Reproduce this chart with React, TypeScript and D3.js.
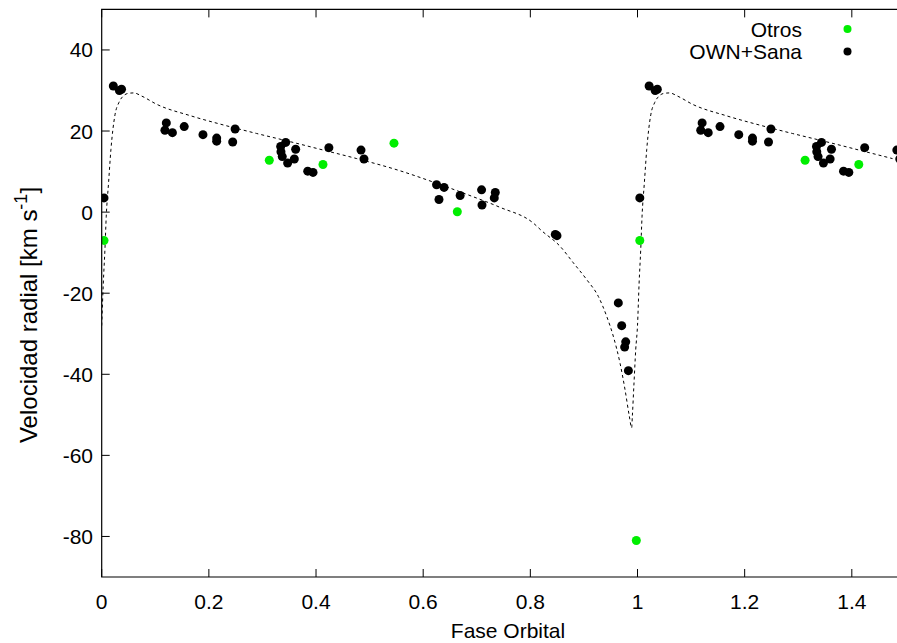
import React from "react";
import * as d3 from "d3";

// Observed data: phase, radial velocity (km/s)
const ownPhase = [0.0043, 0.0217, 0.033, 0.037, 0.1206, 0.118, 0.132, 0.154, 0.189, 0.2146, 0.2146, 0.2445, 0.249, 0.334, 0.3434, 0.3346, 0.337, 0.362, 0.347, 0.3595, 0.3845, 0.3944, 0.424, 0.484, 0.4895, 0.625, 0.639, 0.6295, 0.669, 0.709, 0.7098, 0.7346, 0.7327, 0.8466, 0.8497, 0.9642, 0.9705, 0.978, 0.976, 0.983];
const ownVel = [3.5, 31.1, 30.0, 30.3, 22.0, 20.2, 19.6, 21.1, 19.1, 18.25, 17.5, 17.3, 20.5, 16.2, 17.2, 14.9, 13.7, 15.5, 12.1, 13.1, 10.1, 9.8, 15.9, 15.3, 13.1, 6.75, 6.1, 3.1, 4.1, 5.5, 1.75, 4.85, 3.5, -5.5, -5.8, -22.4, -28.0, -32.0, -33.3, -39.1];

const otrosPhase = [0.0043, 0.3128, 0.413, 0.5455, 0.6637, 0.9978];
const otrosVel = [-7.0, 12.8, 11.75, 17.0, 0.1, -81.0];

// Orbit model curve
const curvePhase = [0.0, 0.003, 0.006, 0.0085, 0.0128, 0.0172, 0.0248, 0.032, 0.04, 0.05, 0.06, 0.075, 0.1026, 0.165, 0.227, 0.289, 0.351, 0.4136, 0.476, 0.5567, 0.619, 0.681, 0.743, 0.8055, 0.8212, 0.8553, 0.8802, 0.9052, 0.9269, 0.9425, 0.9548, 0.9673, 0.9766, 0.9847, 0.9891, 0.9904, 0.9935, 0.9967, 1.0];
const curveVel = [-28.0, -17.5, -9.3, -1.0, 7.2, 15.4, 24.0, 27.0, 28.6, 29.3, 29.4, 28.6, 26.6, 23.8, 21.5, 19.4, 17.4, 15.3, 13.2, 10.2, 7.4, 4.4, 1.2, -2.7, -4.6, -8.4, -12.5, -16.65, -20.8, -25.7, -30.6, -37.2, -43.7, -50.3, -53.2, -50.3, -42.1, -33.9, -28.0];

const xTicks = [0, 0.2, 0.4, 0.6, 0.8, 1, 1.2, 1.4];
const yTicks = [-80, -60, -40, -20, 0, 20, 40];

const xTitle = "Fase Orbital";
const legendLabels = ["Otros", "OWN+Sana"];

const W = 897;
const H = 643;
const FONT = "'Liberation Sans', Arial, Helvetica, sans-serif";

export default function App() {
  const left = 101.7;
  const top = 9.4;
  const bottom = 577;
  const xMax = 1.5;
  const x = d3.scaleLinear().domain([0, xMax]).range([left, left + 535.8 * xMax]);
  const y = d3.scaleLinear().domain([-90, 50]).range([bottom, top]);
  const right = x(xMax);

  const fold = (ph: number[], v: number[]) => {
    const out: [number, number][] = [];
    ph.forEach((p, i) => {
      out.push([p, v[i]]);
      if (p + 1 <= xMax) out.push([p + 1, v[i]]);
    });
    return out;
  };
  const own = fold(ownPhase, ownVel);
  const otros = fold(otrosPhase, otrosVel);

  const curvePts: [number, number][] = [];
  curvePhase.forEach((p, i) => curvePts.push([p, curveVel[i]]));
  curvePhase.forEach((p, i) => {
    if (p > 0 && p + 1 <= xMax) curvePts.push([p + 1, curveVel[i]]);
  });
  const line = d3
    .line<[number, number]>()
    .x((d) => x(d[0]))
    .y((d) => y(d[1]))
    .curve(d3.curveMonotoneX);

  const green = "#00ee00";
  const tick = 8;

  return (
    <svg
      width={W}
      height={H}
      style={{ position: "absolute", left: 0, top: 0, background: "#fff" }}
      fontFamily={FONT}
    >
      <defs>
        <clipPath id="plotclip">
          <rect x={left} y={top} width={right - left} height={bottom - top} />
        </clipPath>
      </defs>
      <rect x={0} y={0} width={W} height={H} fill="#fff" />

      {/* ticks */}
      {xTicks.map((t) => (
        <g key={"xt" + t}>
          <line x1={x(t)} x2={x(t)} y1={bottom} y2={bottom - tick} stroke="#000" strokeWidth={1} />
          <line x1={x(t)} x2={x(t)} y1={top} y2={top + tick} stroke="#000" strokeWidth={1} />
          <text x={x(t)} y={609} textAnchor="middle" fontSize={21} fill="#000">
            {String(t)}
          </text>
        </g>
      ))}
      {yTicks.map((t) => (
        <g key={"yt" + t}>
          <line x1={left} x2={left + tick} y1={y(t)} y2={y(t)} stroke="#000" strokeWidth={1} />
          <text x={93} y={y(t) + 7.5} textAnchor="end" fontSize={21} fill="#000">
            {String(t)}
          </text>
        </g>
      ))}

      {/* curve */}
      <g clipPath="url(#plotclip)">
        <path d={line(curvePts) || ""} fill="none" stroke="#000" strokeWidth={1} strokeDasharray="3,3" />
        {otros.map((d, i) => (
          <circle key={"g" + i} cx={x(d[0])} cy={y(d[1])} r={4.5} fill={green} />
        ))}
        {own.map((d, i) => (
          <circle key={"b" + i} cx={x(d[0])} cy={y(d[1])} r={4.5} fill="#000" />
        ))}
      </g>

      {/* border */}
      <path
        d={`M${right},${top}H${left}V${bottom}H${right}`}
        fill="none"
        stroke="#000"
        strokeWidth={1.2}
      />

      {/* axis titles */}
      <text x={508} y={638} textAnchor="middle" fontSize={21} fill="#000">
        {xTitle}
      </text>
      <text
        transform={`translate(37,315) rotate(-90)`}
        textAnchor="middle"
        fontSize={24}
        fill="#000"
      >
        Velocidad radial [km s
        <tspan dy={-10} fontSize={18}>-1</tspan>
        <tspan dy={10}>]</tspan>
      </text>

      {/* legend */}
      <text x={802} y={37} textAnchor="end" fontSize={21} fill="#000">
        {legendLabels[0]}
      </text>
      <circle cx={847.5} cy={29} r={4} fill={green} />
      <text x={802} y={59} textAnchor="end" fontSize={21} fill="#000">
        {legendLabels[1]}
      </text>
      <circle cx={847.5} cy={51.5} r={4} fill="#000" />
    </svg>
  );
}
